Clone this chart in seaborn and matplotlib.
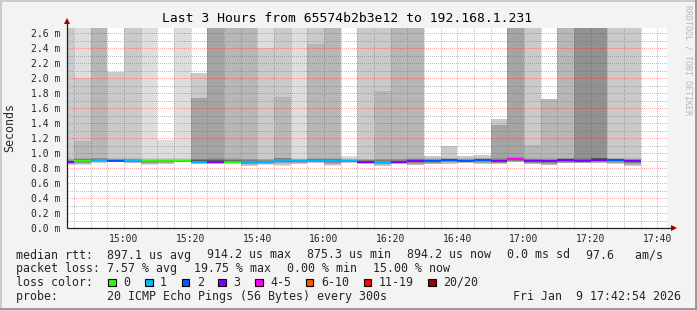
import numpy as np
import pandas as pd
import matplotlib
matplotlib.use("Agg")
import matplotlib.pyplot as plt
from matplotlib.patches import Rectangle
import seaborn as sns

# ---------------------------------------------------------------- data
INF = np.inf
NA = np.nan

step_start = ["14:40", "14:45", "14:50", "14:55", "15:00", "15:05", "15:10",
              "15:15", "15:20", "15:25", "15:30", "15:35", "15:40", "15:45",
              "15:50", "15:55", "16:00", "16:05", "16:10", "16:15", "16:20",
              "16:25", "16:30", "16:35", "16:40", "16:45", "16:50", "16:55",
              "17:00", "17:05", "17:10", "17:15", "17:20", "17:25", "17:30"]

loss_count = [3, 0, 1, 2, 1, 0, 0, 0, 1, 3, 0, 1, 1, 1, 1, 1, 1, 1,
              3, 1, 3, 3, 2, 2, 2, 2, 3, 4, 3, 3, 3, 3, 3, 2, 3]

median_ms = [0.875, 0.895, 0.905, 0.898, 0.895, 0.890, 0.890, 0.890, 0.884,
             0.884, 0.884, 0.880, 0.880, 0.912, 0.893, 0.893, 0.898, 0.898,
             0.884, 0.880, 0.880, 0.893, 0.893, 0.907, 0.893, 0.907, 0.889,
             0.914, 0.893, 0.889, 0.902, 0.891, 0.911, 0.907, 0.894]

lowest_ms = [0.840, 0.840, 0.862, 0.871, 0.862, 0.840, 0.853, 0.876, 0.840,
             0.840, 0.858, 0.822, 0.840, 0.822, 0.849, 0.867, 0.822, 0.867,
             0.840, 0.822, 0.849, 0.822, 0.840, 0.849, 0.858, 0.840, 0.849,
             0.867, 0.840, 0.818, 0.840, 0.849, 0.849, 0.840, 0.818]

core_top_ms = [0.930, 0.930, 0.935, 0.930, 0.930, 0.930, 0.930, 0.930, 0.925,
               0.930, 0.930, 0.925, 0.925, 0.940, 0.930, 0.930, 0.935, 0.935,
               0.925, 0.925, 0.925, 0.930, 0.930, 0.940, 0.930, 0.940, 0.930,
               0.945, 0.930, 0.930, 0.935, 0.930, 0.940, 0.940, 0.930]

# highest pings of each step, from rank 20 downward (NA = band not drawn)
upper_pings_ms = [
    [NA, INF],                 # 14:40
    [INF, 2.00, 1.16],         # 14:45
    [INF, INF, INF],           # 14:50
    [NA, 2.08],                # 14:55
    [INF, INF],                # 15:00
    [INF],                     # 15:05
    [1.17],                    # 15:10
    [INF],                     # 15:15
    [NA, 2.07, 1.73, 1.73],    # 15:20
    [NA, INF, INF, INF],       # 15:25
    [INF, INF, INF],           # 15:30
    [INF, INF, INF],           # 15:35
    [INF, 2.40],               # 15:40
    [INF, INF, 1.75],          # 15:45
    [INF],                     # 15:50
    [INF, INF, 2.45],          # 15:55
    [INF, INF, INF],           # 16:00
    [0.96],                    # 16:05
    [NA, INF],                 # 16:10
    [INF, INF, 1.83],          # 16:15
    [NA, INF, INF],            # 16:20
    [NA, INF, INF],            # 16:25
    [NA, 0.955],               # 16:30
    [NA, 1.10],                # 16:35
    [NA, 0.965],               # 16:40
    [NA, 0.97],                # 16:45
    [NA, 1.46, 1.37, 1.37],    # 16:50
    [NA, INF, INF, INF],       # 16:55
    [NA, INF, 1.107],          # 17:00
    [NA, NA, 1.72],            # 17:05
    [NA, NA, INF],             # 17:10
    [NA, NA, INF, INF, INF],   # 17:15
    [NA, NA, INF, INF, INF],   # 17:20
    [NA, INF],                 # 17:25
    [NA, INF],                 # 17:30
]

y_tick_values = [0.0, 0.2, 0.4, 0.6, 0.8, 1.0, 1.2, 1.4, 1.6, 1.8, 2.0, 2.2, 2.4, 2.6]
x_tick_labels = ["15:00", "15:20", "15:40", "16:00", "16:20", "16:40", "17:00", "17:20", "17:40"]
loss_labels = ["0", "1", "2", "3", "4-5", "6-10", "11-19", "20/20"]
loss_colors = ["#26ff00", "#00b8ff", "#0059ff", "#7e00ff", "#ff00ff", "#ff5500", "#ff0000", "#a10000"]

title_text = "Last 3 Hours from 65574b2b3e12 to 192.168.1.231"
rtt_line = [("median rtt:  897.1 us avg", 16), ("914.2 us max", 207), ("875.3 us min", 307),
            ("894.2 us now", 407), ("0.0 ms sd", 507), ("97.6   am/s", 586)]
loss_line = [("packet loss: 7.57 % avg", 16), ("19.75 % max", 194), ("0.00 % min", 287),
             ("15.00 % now", 373)]
probe_line = [("probe:       20 ICMP Echo Pings (56 Bytes) every 300s", 16),
              ("Fri Jan  9 17:42:54 2026", 513)]
view_start, view_end = "14:42:54", "17:42:54"
y_max = 2.6667

# ---------------------------------------------------------------- helpers
def to_min(s):
    p = [int(v) for v in s.split(":")]
    m = (p[0] - 14) * 60 + p[1]
    if len(p) > 2:
        m += p[2] / 60.0
    return m

def loss_cat(n):
    if n <= 3:
        return loss_labels[n]
    if n <= 5:
        return "4-5"
    if n <= 10:
        return "6-10"
    if n <= 19:
        return "11-19"
    return "20/20"

STEP = 5.0
starts = np.array([to_min(s) for s in step_start])
x0, x1 = to_min(view_start), to_min(view_end)

# smokeping smoke shades (outer band light -> inner band dark)
SHADES = ["#%02x%02x%02x" % ((int(190 / 10 * (10 - i)) + 50,) * 3) for i in range(1, 11)]
UP_FRAC = [1.0, 0.75, 0.55, 0.40, 0.28, 0.18, 0.10, 0.05, 0.03, 0.02]
LOW_FRAC = [1.0, 0.82, 0.66, 0.52, 0.40, 0.30, 0.21, 0.13, 0.07, 0.03]

W, H = 697, 310
PX_L, PX_T, PW, PH = 67, 28, 600, 200
sns.set_style("white")
plt.rcParams["font.family"] = ["DejaVu Sans Mono", "DejaVu Sans"]

fig = plt.figure(figsize=(W / 100, H / 100), dpi=100)
fig.patch.set_facecolor("#f3f3f3")
ax = fig.add_axes([PX_L / W, 1 - (PX_T + PH) / H, PW / W, PH / H])
ax.set_facecolor("white")

# ---- smoke bands
for bi in range(10):
    xs, bots, hts = [], [], []
    for k in range(len(starts)):
        med = median_ms[k]
        tp = upper_pings_ms[k]
        if bi < len(tp):
            up = tp[bi]
            if np.isnan(up):
                continue
        else:
            j = bi - len(tp)
            up = med + (core_top_ms[k] - med) * UP_FRAC[min(j, len(UP_FRAC) - 1)]
        if np.isinf(up):
            up = y_max * 1.1
        lo = med - (med - lowest_ms[k]) * LOW_FRAC[bi]
        xs.append(starts[k]); bots.append(lo); hts.append(up - lo)
    if xs:
        ax.bar(xs, hts, bottom=bots, width=STEP, align="edge", color=SHADES[bi],
               linewidth=0, antialiased=False, zorder=1)

# ---- median lines, coloured by loss
rows = []
for k in range(len(starts)):
    c = loss_cat(loss_count[k])
    rows.append({"t": max(starts[k], x0), "ms": median_ms[k], "loss": c, "step": k})
    rows.append({"t": starts[k] + STEP, "ms": median_ms[k], "loss": c, "step": k})
df = pd.DataFrame(rows)
pal = dict(zip(loss_labels, loss_colors))
sns.lineplot(data=df, x="t", y="ms", hue="loss", units="step", estimator=None,
             palette=pal, hue_order=loss_labels, legend=False, linewidth=1.45,
             solid_capstyle="butt", ax=ax, zorder=3)

# ---- dotted grid drawn on top as a pixel overlay
maj_x = [to_min(s) for s in x_tick_labels]
grid = np.zeros((PH, PW, 4))
minor_rgba = (0.42, 0.42, 0.42, 0.42)
major_rgba = (0.95, 0.0, 0.0, 0.33)

def row_of(v):
    return int(round((y_max - v) / y_max * PH))

def col_of(t):
    return int(round((t - x0) / (x1 - x0) * PW))

for i in range(1, 27):
    r = row_of(i * 0.1)
    if 0 <= r < PH:
        grid[r, 1::2] = major_rgba if i % 2 == 0 else minor_rgba
t = np.ceil(x0 / 5) * 5
while t < x1:
    c = col_of(t)
    if 0 <= c < PW:
        is_major = any(abs(t - m) < 1e-6 for m in maj_x)
        grid[1::2, c] = major_rgba if is_major else minor_rgba
    t += 5
ax.imshow(grid, extent=(x0, x1, 0, y_max), aspect="auto", interpolation="nearest",
          origin="upper", zorder=5)

ax.set_xlim(x0, x1)
ax.set_ylim(0, y_max)
ax.set_xticks(maj_x)
ax.set_xticklabels(x_tick_labels)
ax.set_yticks(y_tick_values)
ax.set_yticklabels([f"{v:.1f} m" for v in y_tick_values])
ax.tick_params(axis="both", labelsize=7.05, length=2.5, width=0.72, color="#202020",
               direction="out", pad=2)
ax.tick_params(axis="y", length=3.0, pad=2.0)
ax.set_xlabel(""); ax.set_ylabel("")
for s in ["top", "right", "left", "bottom"]:
    ax.spines[s].set_visible(False)

# axis lines with arrows
ax.plot([0, 0], [0, 1.03], transform=ax.transAxes, color="#202020", lw=0.9,
        clip_on=False, zorder=6, solid_capstyle="butt")
ax.plot([0, 1.011], [0, 0], transform=ax.transAxes, color="#202020", lw=0.9,
        clip_on=False, zorder=6, solid_capstyle="butt")
ax.plot([0], [1.033], marker="^", markersize=4.2, color="#a00000", transform=ax.transAxes,
        clip_on=False, zorder=7, markeredgewidth=0)
ax.plot([1.011], [0], marker=">", markersize=4.2, color="#a00000", transform=ax.transAxes,
        clip_on=False, zorder=7, markeredgewidth=0)

# ---- texts
def fx(px):
    return px / W

def fy(py):
    return 1 - py / H

fig.text(fx(347.5), fy(19), title_text, ha="center", va="center", fontsize=9.35, color="black")
fig.text(fx(10), fy(127), "Seconds", ha="center", va="center", rotation=90, fontsize=8.4)
fig.text(fx(688), fy(60), "RRDTOOL / TOBI OETIKER", ha="center", va="center",
         rotation=270, fontsize=6.0, color="#b8b8b8")

LEG_FS = 8.4
for row, yc in ((rtt_line, 255.0), (loss_line, 268.6), (probe_line, 296.2)):
    for txt, xp in row:
        fig.text(fx(xp), fy(yc), txt, ha="left", va="center", fontsize=LEG_FS)

fig.text(fx(16), fy(282.4), "loss color:", ha="left", va="center", fontsize=LEG_FS)
bx = 108.3
for lab, col in zip(loss_labels, loss_colors):
    fig.patches.append(Rectangle((fx(bx), fy(286.3)), 7.7 / W, 7.7 / H,
                                 transform=fig.transFigure, facecolor=col,
                                 edgecolor="black", linewidth=0.8))
    fig.text(fx(bx + 15), fy(282.4), lab, ha="left", va="center", fontsize=LEG_FS)
    bx += 29.7 + 7.0 * len(lab)

# ---- frame shading
for (x, y, w, h, c) in [(0, 0, W, 2, "#cbcbcb"), (0, 0, 2, H, "#cbcbcb"),
                        (0, H - 2, W, 2, "#9b9b9b"), (W - 2, 0, 2, H, "#9b9b9b")]:
    fig.patches.append(Rectangle((fx(x), fy(y + h)), w / W, h / H, transform=fig.transFigure,
                                 facecolor=c, edgecolor="none"))

fig.savefig("out.png", dpi=100, facecolor=fig.get_facecolor())
